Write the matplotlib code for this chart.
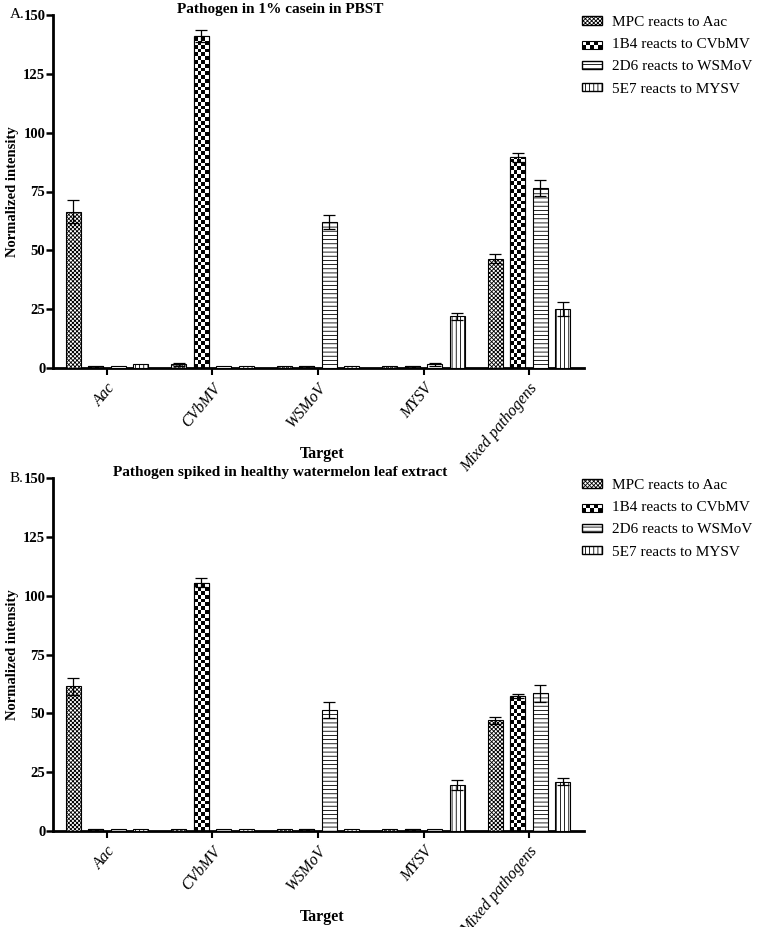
import numpy as np
import matplotlib
matplotlib.use("Agg")
import matplotlib.pyplot as plt
from matplotlib.patches import Patch, Rectangle
from matplotlib.legend_handler import HandlerBase

plt.rcParams['font.family'] = ['Liberation Serif', 'DejaVu Serif']
plt.rcParams['hatch.linewidth'] = 0.6

# data
targets = ['Aac', 'CVbMV', 'WSMoV', 'MYSV', 'Mixed pathogens']
series = ['MPC reacts to Aac', '1B4 reacts to CVbMV', '2D6 reacts to WSMoV', '5E7 reacts to MYSV']

# panel A: Pathogen in 1% casein in PBST  (rows = series, cols = targets)
vals_a = [[66.5, 1.5, 0.8, 0.8, 46.5],
          [0.8, 141.0, 0.8, 0.8, 89.5],
          [0.8, 0.8, 62.0, 1.5, 76.5],
          [1.8, 0.8, 0.8, 22.0, 25.0]]
err_a = [[5.0, 0.7, 0.0, 0.0, 2.0],
         [0.0, 2.5, 0.0, 0.0, 2.0],
         [0.0, 0.0, 3.0, 0.8, 3.5],
         [0.0, 0.0, 0.0, 1.5, 3.0]]

# panel B: Pathogen spiked in healthy watermelon leaf extract
vals_b = [[61.5, 0.8, 0.8, 0.8, 47.0],
          [0.8, 105.5, 0.8, 0.8, 57.5],
          [0.8, 0.8, 51.5, 0.8, 58.5],
          [0.8, 0.8, 0.8, 19.5, 21.0]]
err_b = [[3.5, 0.0, 0.0, 0.0, 1.5],
         [0.0, 2.0, 0.0, 0.0, 0.8],
         [0.0, 0.0, 3.5, 0.0, 3.5],
         [0.0, 0.0, 0.0, 2.0, 1.5]]

yticks = [0, 25, 50, 75, 100, 125, 150]

hatches = ['xxxxxxxx', None, '----', '||||']
W, H = 759, 927
fig = plt.figure(figsize=(W / 100, H / 100), dpi=100)


class CheckerHandler(HandlerBase):
    # legend key drawn as a small checkerboard
    def create_artists(self, legend, orig, xd, yd, width, height, fontsize, trans):
        arts = [Rectangle((xd, yd), width, height, facecolor='white', edgecolor='black',
                          lw=0.8, transform=trans)]
        nc, nr = 5, 2
        cw, ch = width / nc, height / nr
        for r in range(nr):
            for c in range(nc):
                if (r + c) % 2 == 0:
                    arts.append(Rectangle((xd + c * cw, yd + r * ch), cw, ch,
                                          facecolor='black', lw=0, transform=trans))
        return arts


def checker(ax, bar, px_per_unit):
    # draw a checkerboard inside a bar (no built-in hatch for this)
    x0, y0 = bar.get_x(), bar.get_y()
    w, h = bar.get_width(), bar.get_height()
    cell = 3.8 / px_per_unit
    nr = max(1, int(np.ceil(h / cell)))
    nc = 4
    img = np.indices((nr, nc)).sum(axis=0) % 2
    im = ax.imshow(img, cmap='gray', extent=(x0, x0 + w, y0, y0 + nr * cell),
                   aspect='auto', interpolation='nearest', origin='lower', zorder=2)
    im.set_clip_path(bar)


def panel(rect, vals, errs, title, letter):
    ax = fig.add_axes(rect)
    x = np.arange(len(targets))
    step, bw = 0.213, 0.142
    ppu = rect[3] * H / 150
    for i, s in enumerate(series):
        pos = x + (i - 1.5) * step
        bars = ax.bar(pos, vals[i], bw, color='white', edgecolor='black',
                      hatch=hatches[i], linewidth=0.8, label=s, zorder=3 if i != 1 else 1)
        if i == 1:
            for b in bars:
                checker(ax, b, ppu)
            ax.bar(pos, vals[i], bw, fill=False, edgecolor='black', linewidth=0.8, zorder=3)
        e = np.array(errs[i])
        m = e > 0
        ax.errorbar(pos[m], np.array(vals[i])[m], yerr=e[m], fmt='none', ecolor='black',
                    elinewidth=0.9, capsize=4.5, capthick=0.9, zorder=4)
    ax.set_xlim(-0.51, 4.52)
    ax.set_ylim(0, 150)
    ax.set_yticks(yticks)
    ax.set_xticks(x)
    ax.set_xticklabels(targets, rotation=50, ha='right', va='top', rotation_mode='anchor',
                       fontstyle='italic', fontsize=11.5)
    for t in ax.get_yticklabels():
        t.set_fontweight('bold')
        t.set_fontsize(10.5)
    ax.tick_params(axis='y', width=1.8, length=5, pad=0.5)
    ax.tick_params(axis='x', width=1.5, length=5, pad=4)
    for sp in ['top', 'right']:
        ax.spines[sp].set_visible(False)
    for sp in ['left', 'bottom']:
        ax.spines[sp].set_linewidth(2)
    ax.set_ylabel('Normalized intensity', fontweight='bold', fontsize=10.5)
    ax.yaxis.set_label_coords(-0.064, 0.5)
    ax.set_xlabel('Target', fontweight='bold', fontsize=11.5)
    ax.xaxis.set_label_coords(0.507, -0.22)
    ax.annotate(title, xy=(0.427, 1.0), xycoords='axes fraction', xytext=(0, 4),
                textcoords='offset points', ha='center', va='center',
                fontweight='bold', fontsize=11)
    fig.text(10 / W, rect[1] + rect[3], letter, ha='left', va='center', fontsize=11)
    handles = [Patch(facecolor='white', edgecolor='black', hatch=hatches[0], label=series[0]),
               Patch(facecolor='white', edgecolor='black', label=series[1]),
               Patch(facecolor='white', edgecolor='black', hatch=hatches[2], label=series[2]),
               Patch(facecolor='white', edgecolor='black', hatch=hatches[3], label=series[3])]
    ax.legend(handles=handles, loc='upper left', bbox_to_anchor=(0.996, 0.997),
              handler_map={handles[1]: CheckerHandler()},
              frameon=False, fontsize=11, handlelength=1.3, handleheight=0.5,
              labelspacing=0.6, handletextpad=0.65, borderpad=0, borderaxespad=0)
    return ax


panel([53 / W, 1 - 368 / H, 531 / W, 353 / H], vals_a, err_a,
      'Pathogen in 1% casein in PBST', 'A.')
panel([53 / W, 1 - 831 / H, 531 / W, 353 / H], vals_b, err_b,
      'Pathogen spiked in healthy watermelon leaf extract', 'B.')

fig.savefig('out.png', dpi=100)
